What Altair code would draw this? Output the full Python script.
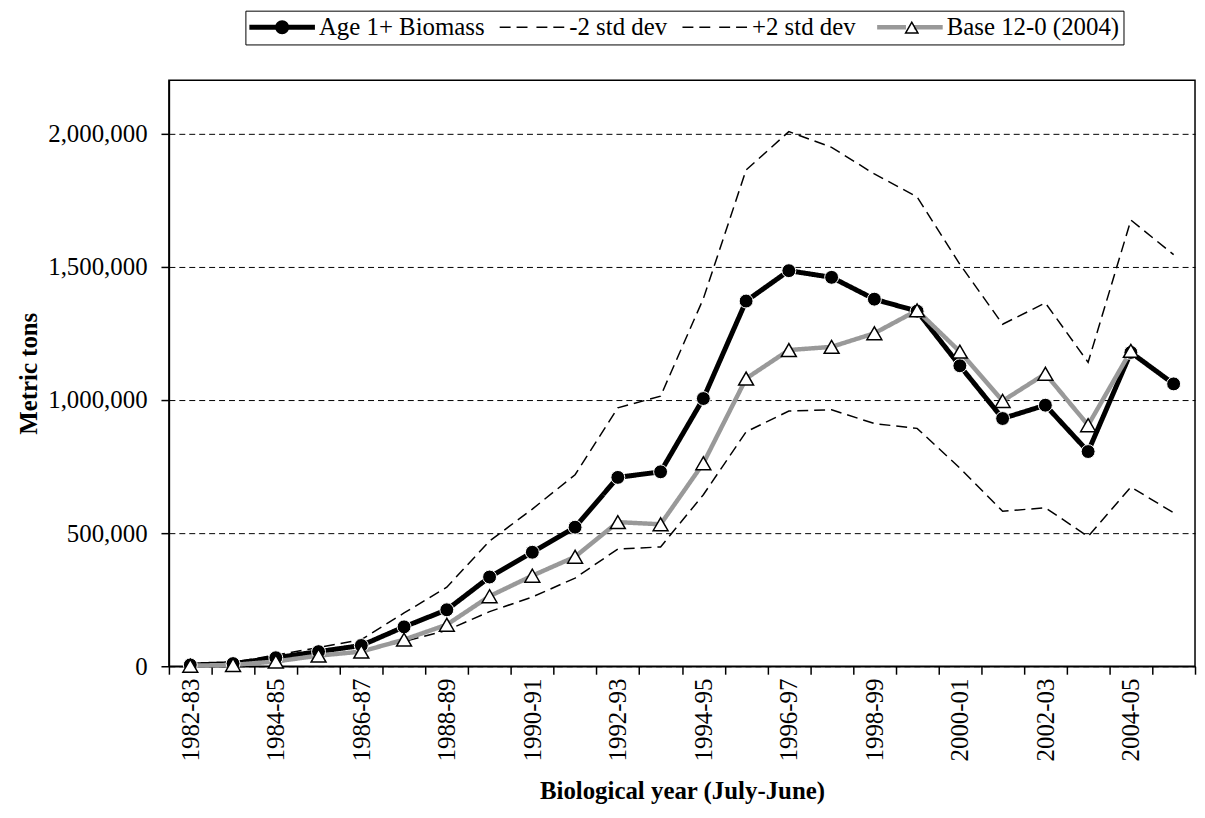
import altair as alt
import pandas as pd

years = ["1982-83", "1983-84", "1984-85", "1985-86", "1986-87", "1987-88", "1988-89", "1989-90",
         "1990-91", "1991-92", "1992-93", "1993-94", "1994-95", "1995-96", "1996-97", "1997-98",
         "1998-99", "1999-00", "2000-01", "2001-02", "2002-03", "2003-04", "2004-05", "2005-06"]

age_1plus_biomass = [5000, 10000, 32000, 55000, 78000, 148000, 212000, 335000, 428000, 522000,
                     709000, 730000, 1005000, 1371000, 1485000, 1460000, 1378000, 1333000,
                     1128000, 930000, 980000, 806000, 1178000, 1060000]
minus_2_std_dev = [2000, 5000, 22000, 38000, 57000, 93000, 135000, 205000, 260000, 331000,
                   440000, 448000, 644000, 880000, 958000, 963000, 911000, 893000,
                   744000, 582000, 595000, 487000, 673000, 576000]
plus_2_std_dev = [8000, 15000, 42000, 70000, 100000, 200000, 297000, 470000, 590000, 719000,
                  970000, 1014000, 1380000, 1863000, 2007000, 1948000, 1848000, 1762000,
                  1509000, 1284000, 1364000, 1141000, 1675000, 1545000]
base_12_0_2004 = [2000, 5000, 18000, 40000, 55000, 100000, 156000, 263000, 340000, 411000,
                  541000, 533000, 762000, 1080000, 1187000, 1199000, 1250000, 1336000,
                  1181000, 996000, 1098000, 905000, 1184000, None]

series_names = ["Age 1+ Biomass", "-2 std dev", "+2 std dev", "Base 12-0 (2004)"]
y_ticks = [0, 500000, 1000000, 1500000, 2000000]

FONT = "Liberation Serif"
FONT_SIZE = 25
GREY = "#999999"

series_values = {
    "Age 1+ Biomass": age_1plus_biomass,
    "-2 std dev": minus_2_std_dev,
    "+2 std dev": plus_2_std_dev,
    "Base 12-0 (2004)": base_12_0_2004,
}
draw_order = ["-2 std dev", "+2 std dev", "Age 1+ Biomass", "Base 12-0 (2004)"]
rows = []
for name in draw_order:
    for i, (yr, v) in enumerate(zip(years, series_values[name])):
        if v is not None:
            rows.append({"Series": name, "Year": yr, "Idx": i, "Value": v})
df = pd.DataFrame(rows)

# ---- legend geometry (Times / Liberation Serif advance widths, per 1000 em) ----
EM = {" ": 250, "+": 564, "-": 333, "(": 333, ")": 333, "A": 722, "B": 667, "a": 444,
      "d": 500, "e": 444, "g": 500, "i": 278, "m": 778, "o": 500, "s": 389, "t": 278, "v": 500}
for ch in "0123456789":
    EM[ch] = 500


def text_width(s, size):
    return sum(EM.get(c, 500) for c in s) / 1000.0 * size


SYM_COL = 25          # legend symbol column (max(ceil(sqrt(400)+5), font size))
LABEL_OFFSET = 45     # gap from symbol column to label
COL_PAD = 12          # gap between entries
LINE_LEN = 66         # drawn line length in legend
LAYOUT_FIX = 18       # measured correction between the two legend layouts
base_entry_offset = sum(SYM_COL + LABEL_OFFSET + text_width(s, FONT_SIZE) + COL_PAD
                        for s in series_names[:3])
marker_col_pad = base_entry_offset - LINE_LEN + LAYOUT_FIX

LEG_X, LEG_Y, LEG_PAD = 77, -70, 4

x_enc = alt.X(
    "Year:N", sort=years, bandPosition=0.5,
    scale=alt.Scale(type="band", domain=years, paddingInner=0, paddingOuter=0),
    axis=alt.Axis(
        title="Biological year (July-June)", labelAngle=-90, labelAlign="right",
        labelBaseline="middle",
        labelExpr="toNumber(substring(datum.value, 0, 4)) % 2 == 0 ? datum.label : ''",
        tickBand="extent", tickSize=8, labelPadding=4, titlePadding=18, grid=False,
    ),
)
y_enc = alt.Y(
    "Value:Q",
    scale=alt.Scale(domain=[0, 2200000], nice=False),
    axis=alt.Axis(
        title="Metric tons", values=y_ticks, labelExpr="format(datum.value, ',')",
        grid=True, gridDash=[6, 4],
        gridColor="black", gridWidth=1, tickSize=8, labelPadding=14, titlePadding=6,
    ),
)

legend_lines = alt.Legend(
    title=None, orient="none", legendX=LEG_X, legendY=LEG_Y, direction="horizontal",
    symbolSize=400, symbolType="M-1.25,0H1.65M2.45,0H5.35",
    labelFont=FONT, labelFontSize=FONT_SIZE, labelColor="black", labelOffset=LABEL_OFFSET,
    columnPadding=COL_PAD, padding=LEG_PAD, labelLimit=0,
    strokeColor="black", fillColor="white", zindex=1,
)
legend_marks = alt.Legend(
    title=None, orient="none", legendX=LEG_X, legendY=LEG_Y, direction="horizontal",
    symbolSize=400, symbolFillColor="black", symbolStrokeWidth=0, symbolOpacity=1,
    labelFont=FONT, labelFontSize=FONT_SIZE, labelOffset=0, labelExpr="''",
    columnPadding=marker_col_pad, padding=LEG_PAD, zindex=2,
)

lines = alt.Chart(df).mark_line().encode(
    x=x_enc, y=y_enc,
    stroke=alt.Stroke("Series:N", scale=alt.Scale(type="ordinal", domain=series_names,
                      range=["black", "black", "black", GREY]), legend=legend_lines),
    strokeDash=alt.StrokeDash("Series:N", scale=alt.Scale(type="ordinal", domain=series_names,
                              range=[[1, 0], [11, 6], [11, 6], [1, 0]]), legend=legend_lines),
    strokeWidth=alt.StrokeWidth("Series:N", scale=alt.Scale(type="ordinal", domain=series_names,
                                range=[5, 1.5, 1.5, 4.5]), legend=legend_lines),
    order="Idx:Q",
)

age_pts = alt.Chart(df).transform_filter(alt.datum.Series == "Age 1+ Biomass").mark_point(
    shape="circle", filled=True, fill="black", stroke="white", strokeWidth=1, size=196, opacity=1
).encode(x=x_enc, y=y_enc)

base_pts = alt.Chart(df).transform_filter(alt.datum.Series == "Base 12-0 (2004)").mark_point(
    shape="triangle-up", filled=True, fill="white", stroke="black", strokeWidth=1.5, size=225,
    opacity=1
).encode(x=x_enc, y=y_enc)

# legend markers: filled circle and triangle outline (ring), with invisible end points so
# that each entry spans the same width as a line entry
marker_keys = ["circle", "triangle"]
extent = "M-1.25,0L-1.25,0M5.35,0L5.35,0"
marker_paths = [
    extent + "M1.35,0A0.7,0.7 0 1,0 2.75,0A0.7,0.7 0 1,0 1.35,0Z",
    extent + "M2.05,-0.65L1.3,0.65L2.8,0.65ZM2.05,-0.35L2.541,0.5L1.559,0.5Z",
]
legend_dummy = alt.Chart(alt.Data(values=[])).mark_point(
    filled=True, color="black", opacity=1
).encode(
    shape=alt.Shape("Marker:N", scale=alt.Scale(domain=marker_keys, range=marker_paths),
                    legend=legend_marks),
)

chart = alt.layer(lines, age_pts, base_pts, legend_dummy).properties(
    width=1033, height=590,
    autosize=alt.AutoSizeParams(type="none"),
    padding={"left": 162, "top": 70, "right": 2, "bottom": 140},
).configure(font=FONT).configure_view(
    stroke="black", strokeWidth=1.5
).configure_legend(
    labelFont=FONT, labelFontSize=FONT_SIZE
).configure_axis(
    labelFont=FONT, labelFontSize=FONT_SIZE, labelColor="black", titleFont=FONT,
    titleFontSize=FONT_SIZE, titleFontWeight="bold", titleColor="black",
    domainColor="black", tickColor="black", domainWidth=1.5, tickWidth=1.5,
)

chart.save("out.html", embed_options={"renderer": "svg", "actions": False})
